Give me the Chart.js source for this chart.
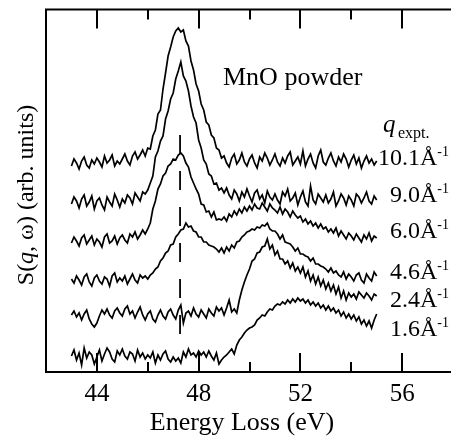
<!DOCTYPE html>
<html>
<head>
<meta charset="utf-8">
<script src="https://cdn.jsdelivr.net/npm/chart.js@4.4.0/dist/chart.umd.min.js"></script>
<style>
  html, body { margin: 0; padding: 0; background: #fff; overflow: hidden; }
  #wrap { width: 451px; height: 437px; overflow: hidden; }
</style>
</head>
<body>
<div id="wrap"><canvas id="chart" width="460" height="437"></canvas></div>
<script>
// energy loss axis (eV), shared by all spectra
const energy = [
  43.0,43.1,43.2,43.3,43.4,43.5,43.6,43.7,43.8,43.9,
  44.0,44.1,44.2,44.3,44.4,44.5,44.6,44.7,44.8,44.9,
  45.0,45.1,45.2,45.3,45.4,45.5,45.6,45.7,45.8,45.9,
  46.0,46.1,46.2,46.3,46.4,46.5,46.6,46.7,46.8,46.9,
  47.0,47.1,47.2,47.3,47.4,47.5,47.6,47.7,47.8,47.9,
  48.0,48.1,48.2,48.3,48.4,48.5,48.6,48.7,48.8,48.9,
  49.0,49.1,49.2,49.3,49.4,49.5,49.6,49.7,49.8,49.9,
  50.0,50.1,50.2,50.3,50.4,50.5,50.6,50.7,50.8,50.9,
  51.0,51.1,51.2,51.3,51.4,51.5,51.6,51.7,51.8,51.9,
  52.0,52.1,52.2,52.3,52.4,52.5,52.6,52.7,52.8,52.9,
  53.0,53.1,53.2,53.3,53.4,53.5,53.6,53.7,53.8,53.9,
  54.0,54.1,54.2,54.3,54.4,54.5,54.6,54.7,54.8,54.9,
  55.0
];

// S(q,w), arb. units, offset spectra (top to bottom)
const q101 = [
  206,213,209,203,211,215,207,204,212,208,
  214,210,205,216,209,212,217,206,211,208,
  213,218,211,207,216,220,213,217,222,216,
  224,223,236,242,258,262,283,299,316,325,
  335,341,344,340,342,331,326,311,302,288,
  281,268,262,250,247,237,234,224,222,214,
  216,209,205,214,218,208,212,219,210,206,
  213,217,209,204,215,211,219,214,207,212,
  218,210,206,214,209,216,220,207,211,215,
  208,221,206,213,218,209,204,216,222,210,
  207,214,219,211,206,215,210,218,213,205,
  212,217,208,214,204,211,216,209,213,207,
  211
];
const q90 = [
  168,175,171,164,173,177,166,170,176,163,
  171,174,167,162,175,170,166,178,172,165,
  173,169,177,174,168,179,175,171,180,178,
  182,189,196,215,221,231,236,253,261,273,
  279,293,301,310,296,291,281,266,255,249,
  232,224,212,208,198,196,188,189,182,184,
  179,184,177,173,182,178,171,180,175,183,
  176,170,179,182,173,177,169,181,175,172,
  178,172,168,180,176,183,171,174,179,167,
  175,181,170,166,186,172,168,178,174,170,
  177,169,173,180,166,171,178,174,167,176,
  172,166,178,175,169,174,180,171,168,176,
  172
];
const q60 = [
  129,135,131,126,134,137,128,132,136,127,
  133,130,125,135,138,129,131,136,128,134,
  137,132,129,138,135,140,133,137,142,138,
  143,149,163,171,183,188,196,199,206,208,
  213,212,217,219,216,209,205,195,189,183,
  178,168,167,160,161,155,160,152,153,152,
  155,151,158,155,161,157,163,159,165,161,
  166,162,168,164,163,169,165,161,168,164,
  162,159,165,158,163,160,155,161,157,154,
  156,150,153,148,151,146,149,144,148,143,
  145,140,143,139,144,136,141,137,133,139,
  136,132,138,134,130,137,133,139,131,136,
  134
];
const q46 = [
  93,89,96,92,87,95,98,90,86,94,
  97,91,88,95,93,86,96,99,90,94,
  91,96,88,93,98,92,89,97,94,96,
  93,97,99,103,105,111,114,119,121,127,
  128,135,138,142,143,149,145,146,141,140,
  135,135,130,130,127,126,125,123,120,124,
  119,125,121,127,124,130,131,135,137,140,
  141,143,142,145,144,147,146,149,143,141,
  141,138,133,137,130,129,128,125,121,124,
  118,118,116,115,111,114,108,108,106,105,
  103,100,104,99,101,97,95,100,93,98,
  95,91,97,99,92,89,98,94,91,100,
  96
];
const q24 = [
  57,61,55,59,52,58,62,53,48,45,
  49,56,62,58,63,57,54,61,64,59,
  56,63,66,58,61,54,60,65,57,52,
  58,61,53,50,57,62,56,53,60,63,
  57,53,62,67,49,59,61,56,64,58,
  55,62,58,54,63,59,56,65,61,64,
  57,64,72,60,63,59,72,82,90,97,
  103,111,113,119,120,125,126,133,123,127,
  117,121,113,113,108,111,104,109,101,105,
  99,105,95,101,91,97,88,95,86,92,
  83,89,81,87,78,85,74,81,72,79,
  75,78,73,80,77,74,79,76,72,78,
  76
];
const q16 = [
  16,22,12,19,7,24,14,20,17,8,
  15,22,11,18,24,20,13,10,21,17,
  23,16,13,20,18,11,22,15,19,13,
  17,14,20,9,17,12,18,21,13,10,
  15,11,14,9,20,15,23,17,19,15,
  21,17,20,15,21,16,12,19,8,12,
  15,17,20,23,18,27,32,35,39,42,
  44,45,47,52,54,57,56,60,63,62,
  66,68,67,70,68,72,69,73,70,74,
  71,73,69,72,67,70,66,69,64,67,
  62,66,61,64,59,62,56,60,54,58,
  53,57,51,55,48,52,46,51,44,52,
  58
];

const qLabels = ["10.1", "9.0", "6.0", "4.6", "2.4", "1.6"];
const xTicks = [44, 46, 48, 50, 52, 54, 56];
const xLabelTicks = [44, 48, 52, 56];

// vertical dashed marker
const dashEnergy = 47.27;
const dashRange = [38, 237];

const serif = "'Liberation Serif', 'Times New Roman', serif";
const spectra = [q101, q90, q60, q46, q24, q16];

const datasets = spectra.map(arr => ({
  data: arr.map((v, i) => ({ x: energy[i], y: v })),
  borderColor: "#000",
  borderWidth: 1.7,
  pointRadius: 0,
  fill: false,
  tension: 0
}));
datasets.push({
  data: dashRange.map(v => ({ x: dashEnergy, y: v })),
  borderColor: "#000",
  borderWidth: 1.8,
  borderDash: [19, 17],
  pointRadius: 0,
  fill: false
});

const decorations = {
  id: "decorations",
  afterDraw(chart) {
    const ctx = chart.ctx;
    const area = chart.chartArea;
    const xs = chart.scales.x;
    ctx.save();
    ctx.strokeStyle = "#000";
    ctx.fillStyle = "#000";
    ctx.lineWidth = 2;

    // top frame line
    ctx.beginPath();
    ctx.moveTo(area.left - 1, area.top);
    ctx.lineTo(area.right + 1, area.top);
    ctx.stroke();

    // inward ticks on top and bottom
    xTicks.forEach(v => {
      const px = Math.round(xs.getPixelForValue(v));
      const len = xLabelTicks.includes(v) ? 19 : 10;
      ctx.beginPath();
      ctx.moveTo(px, area.bottom);
      ctx.lineTo(px, area.bottom - len);
      ctx.moveTo(px, area.top);
      ctx.lineTo(px, area.top + len);
      ctx.stroke();
    });

    // x title
    ctx.font = "26px " + serif;
    ctx.textAlign = "center";
    ctx.textBaseline = "alphabetic";
    ctx.fillText("Energy Loss (eV)", 242, 430);

    // y title with italic q
    ctx.save();
    ctx.translate(27, 195);
    ctx.rotate(-Math.PI / 2);
    const parts = [["S(", ""], ["q", "italic "], [", \u03c9) (arb. units)", ""]];
    let total = 0;
    parts.forEach(p => { ctx.font = p[1] + "24px " + serif; total += ctx.measureText(p[0]).width; });
    let cx = -total / 2;
    ctx.textAlign = "left";
    ctx.textBaseline = "middle";
    parts.forEach(p => {
      ctx.font = p[1] + "24px " + serif;
      ctx.fillText(p[0], cx, 0);
      cx += ctx.measureText(p[0]).width;
    });
    ctx.restore();

    // sample name
    ctx.font = "26px " + serif;
    ctx.textAlign = "left";
    ctx.textBaseline = "alphabetic";
    ctx.fillText("MnO powder", 223, 85);

    // q_expt. header
    ctx.font = "italic 25px " + serif;
    ctx.fillText("q", 383, 132);
    ctx.font = "16px " + serif;
    ctx.fillText("expt.", 398, 138);

    // momentum transfer labels, right aligned
    const baselines = [165, 202, 238, 279, 307, 336];
    qLabels.forEach((t, i) => {
      const main = t + "\u00c5";
      ctx.font = "24px " + serif;
      const wMain = ctx.measureText(main).width;
      ctx.font = "14px " + serif;
      const wSup = ctx.measureText("-1").width;
      const left = 449 - wMain - wSup;
      ctx.font = "24px " + serif;
      ctx.fillText(main, left, baselines[i]);
      ctx.font = "14px " + serif;
      ctx.fillText("-1", left + wMain, baselines[i] - 9);
    });
    ctx.restore();
  }
};

new Chart(document.getElementById("chart"), {
  type: "line",
  data: { datasets },
  plugins: [decorations],
  options: {
    responsive: false,
    animation: false,
    events: [],
    layout: { padding: { left: 0, top: 9.5, right: 7, bottom: 0 } },
    plugins: { legend: { display: false }, tooltip: { enabled: false } },
    scales: {
      x: {
        type: "linear",
        min: 42,
        max: 58,
        afterFit: s => { s.height = 65; },
        afterBuildTicks: s => { s.ticks = xLabelTicks.map(v => ({ value: v })); },
        grid: { display: false, drawTicks: false },
        border: { display: true, color: "#000", width: 2 },
        ticks: {
          color: "#000",
          font: { family: serif, size: 25 },
          padding: 7,
          maxRotation: 0,
          autoSkip: false
        }
      },
      y: {
        min: 0,
        max: 362.5,
        afterFit: s => { s.width = 46; },
        grid: { display: false, drawTicks: false },
        border: { display: true, color: "#000", width: 2 },
        ticks: { display: false }
      }
    }
  }
});
</script>
</body>
</html>
